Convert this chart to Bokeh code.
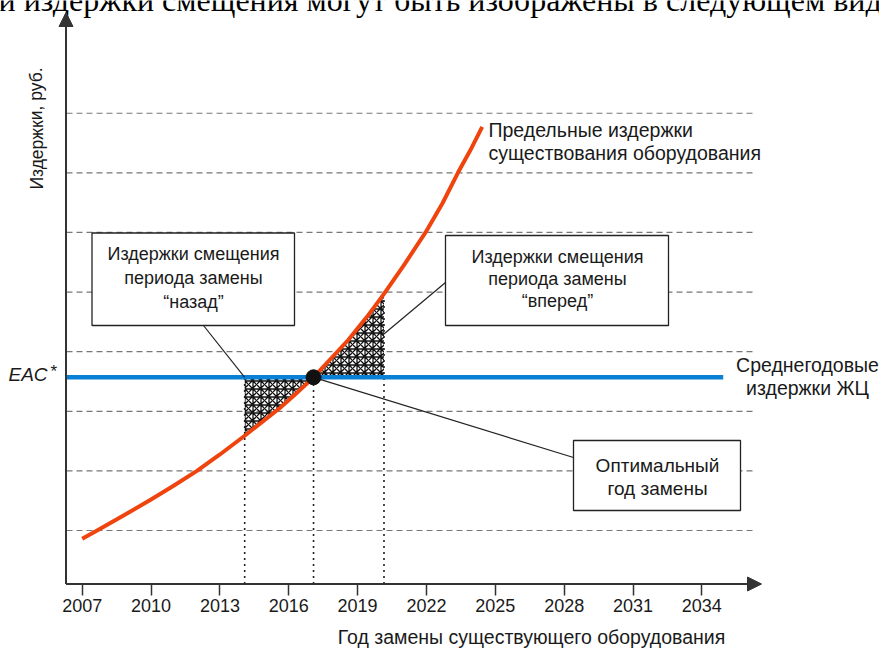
from bokeh.plotting import figure
from bokeh.models import Range1d, LinearAxis, FixedTicker, Arrow, NormalHead
from bokeh.core.properties import value
from bokeh.embed import file_html
from bokeh.resources import INLINE

# ---------------- data ----------------
year_ticks = [2007, 2010, 2013, 2016, 2019, 2022, 2025, 2028, 2031, 2034]
curve_years = [2007.0, 2007.65, 2008.8, 2010.0, 2011.0, 2012.0, 2013.0, 2014.08, 2015.6, 2016.3,
               2017.08, 2018.6, 2019.4, 2020.15, 2021.05, 2021.96, 2022.7, 2023.37, 2023.9, 2024.43]
curve_costs = [0.86, 1.0, 1.25, 1.52, 1.755, 2.0, 2.275, 2.59, 3.05, 3.29,
               3.57, 4.2, 4.58, 4.97, 5.47, 6.0, 6.49, 7.0, 7.37, 7.77]
eac_cost = 3.57
optimal_year = 2017.08
back_year = 2014.08
forward_year = 2020.15
grid_levels = [1, 2, 3, 4, 5, 6, 7, 8]

x_title = "Год замены существующего оборудования"
y_title = "Издержки, руб."
curve_label = ["Предельные издержки", "существования оборудования"]
eac_label = ["Среднегодовые", "издержки ЖЦ"]
back_box = ["Издержки смещения", "периода замены", "“назад”"]
fwd_box = ["Издержки смещения", "периода замены", "“вперед”"]
opt_box = ["Оптимальный", "год замены"]
top_text = "и издержки смещения могут быть изображены в следующем виде"

# ---------------- layout helpers (page pixels -> data) ----------------
PX_2007, PX_PER_YEAR = 81.7, 22.95
PY_1, PX_PER_UNIT = 530.0, 59.61


def X(px):
    return 2007 + (px - PX_2007) / PX_PER_YEAR


def Y(py):
    return 1 + (PY_1 - py) / PX_PER_UNIT


FONT = value("Liberation Sans")
TXT = "#1a1a1a"
axis_level = Y(583.5)
axis_x = X(65.5)

p = figure(width=879, height=648, output_backend="svg", toolbar_location=None,
           x_range=Range1d(X(0), X(879)), y_range=Range1d(Y(648), Y(0)),
           x_axis_type=None, y_axis_type=None, min_border=0)
p.outline_line_color = None
p.background_fill_color = "white"
p.border_fill_color = "white"

# x axis with ticks
xaxis = LinearAxis(fixed_location=axis_level, ticker=FixedTicker(ticks=year_ticks),
                   axis_line_color=None, major_tick_out=11, major_tick_in=0,
                   minor_tick_out=0, minor_tick_in=0,
                   major_tick_line_color="#333333", major_tick_line_width=1.5,
                   major_label_text_font="Liberation Sans", major_label_text_font_size="18px",
                   major_label_text_color=TXT, major_label_standoff=4)
p.add_layout(xaxis, "below")

# gridlines
p.segment(x0=[X(66)] * len(grid_levels), x1=[X(754)] * len(grid_levels),
          y0=grid_levels, y1=grid_levels, line_color="#777777", line_width=1.2, line_dash="6 4")

# hatched areas
back_x = [x for x in curve_years if back_year <= x <= optimal_year]
back_y = [c for x, c in zip(curve_years, curve_costs) if back_year <= x <= optimal_year]
fwd_x = [x for x in curve_years if optimal_year <= x <= forward_year]
fwd_y = [c for x, c in zip(curve_years, curve_costs) if optimal_year <= x <= forward_year]
for hx, hy in ((back_x, back_y), (fwd_x, fwd_y)):
    p.varea(x=hx, y1=hy, y2=[eac_cost] * len(hx), fill_color="white", fill_alpha=0.0,
            hatch_pattern="criss_cross", hatch_color="#111111", hatch_scale=8, hatch_weight=1.3)

# dotted verticals
fwd_cost = curve_costs[curve_years.index(forward_year)]
p.segment(x0=[back_year, optimal_year, forward_year], x1=[back_year, optimal_year, forward_year],
          y0=[axis_level] * 3, y1=[eac_cost, eac_cost, fwd_cost],
          line_color="#222222", line_width=1.6, line_dash="2 4")

# EAC line
p.line(x=[axis_x, X(722.7)], y=[eac_cost, eac_cost], line_color="#0a7fd6", line_width=4.5)

# marginal cost curve
p.line(x=curve_years, y=curve_costs, line_color="#f0440e", line_width=4, line_join="round")

# leader lines
p.segment(x0=[X(203), X(445), optimal_year], y0=[Y(325), Y(282), eac_cost],
          x1=[back_year, forward_year - 0.08, X(573)], y1=[eac_cost, Y(335), Y(457)],
          line_color="#222222", line_width=1.2)

# optimum point
p.scatter(x=[optimal_year], y=[eac_cost], size=15, color="#111111")

# callout boxes
p.quad(left=[X(91.5), X(445), X(573)], right=[X(294), X(668), X(740)],
       top=[Y(232.5), Y(235), Y(440)], bottom=[Y(325), Y(325), Y(510)],
       fill_color="white", line_color="#222222", line_width=1.3)


def texts(xs, ys, labels, align="center", size="18px", style="normal", angle=0.0, font=FONT, color=TXT,
          baseline="middle"):
    p.text(x=xs, y=ys, text=labels, text_font=font, text_font_size=value(size),
           text_font_style=style, text_align=align, text_baseline=baseline,
           text_color=color, angle=angle)


texts([X(193)] * 3, [Y(253), Y(277), Y(301)], back_box)
texts([X(557)] * 3, [Y(256), Y(278), Y(300)], fwd_box)
texts([X(657)] * 2, [Y(465), Y(488)], opt_box, size="19px")
texts([X(488)] * 2, [Y(129), Y(152)], curve_label, align="left", size="19.5px")
texts([X(807)] * 2, [Y(364), Y(387)], eac_label, size="19.5px")
texts([X(531)], [Y(636)], [x_title], size="19.5px")
texts([X(36)], [Y(128)], [y_title], angle=1.5708, size="17.5px")
texts([X(8)], [Y(374)], ["EAC"], align="left", size="19px", style="italic")
texts([X(50)], [Y(371)], ["*"], align="left", size="17px")
texts([X(-2)], [Y(-1)], [top_text], align="left", size="32px",
      font=value("Liberation Serif"), color="#000000", baseline="alphabetic")

# axes arrows
head = dict(size=14, fill_color="#333333", line_color="#333333")
p.add_layout(Arrow(x_start=axis_x, y_start=axis_level, x_end=axis_x, y_end=Y(12),
                   line_color="#333333", line_width=2, end=NormalHead(**head)))
p.add_layout(Arrow(x_start=axis_x, y_start=axis_level, x_end=X(761), y_end=axis_level,
                   line_color="#333333", line_width=2, end=NormalHead(**head)))

open("out.html", "w").write(file_html(p, INLINE))
